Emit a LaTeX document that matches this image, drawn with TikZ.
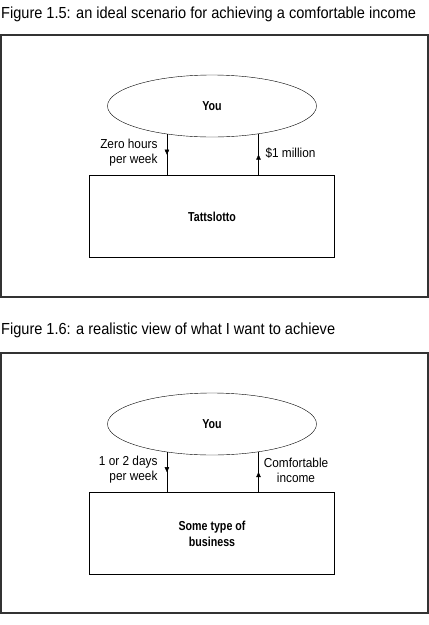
\documentclass[tikz,border=0pt]{standalone}
\usepackage{fontspec}
\setmainfont{Liberation Sans}[FakeStretch=0.91,BoldFeatures={FakeStretch=0.82}]
\usetikzlibrary{arrows.meta,positioning,shapes.geometric,decorations.markings}
\definecolor{FrameGray}{HTML}{333333}

\begin{document}
\begin{tikzpicture}[x=1pt,y=-1pt, every node/.style={font=\fontsize{13}{15}\selectfont},
  figcap/.style={anchor=west,font=\fontsize{16}{18}\selectfont,inner sep=0pt},
  frame/.style={draw=FrameGray,line width=1.6pt},
  youell/.style={draw,ellipse,minimum width=209pt,minimum height=62pt,font=\fontsize{13}{15}\selectfont\bfseries},
  bizbox/.style={draw,rectangle,minimum width=245pt,minimum height=82pt,align=center,font=\fontsize{13}{16}\selectfont\bfseries},
  midarrow/.style={postaction={decorate},decoration={markings,mark=at position 0.5 with {\arrow{Triangle[length=5pt,width=4.5pt]}}}}]
\useasboundingbox (0,0) rectangle (429,625);
% Figure 1.5
\node[figcap] (cap1) at (1,14) {Figure 1.5: an ideal scenario for achieving a comfortable income};
\draw[frame] (1,35) rectangle (428,297);
\node[youell] (you1) at (212,106) {You};
\node[bizbox,below=38pt of you1] (lotto) {Tattslotto};
\draw[midarrow] (you1.-148) -- (you1.-148 |- lotto.north);
\draw[midarrow] (you1.-31 |- lotto.north) -- (you1.-31);
\node[anchor=east,align=right] (hrs1) at (161,153) {Zero hours\\per week};
\node[anchor=west] (cash) at (262,153) {\$1 million};
% Figure 1.6
\node[figcap] (cap2) at (1,330) {Figure 1.6: a realistic view of what I want to achieve};
\draw[frame] (1,353) rectangle (428,613);
\node[youell] (you2) at (212,424) {You};
\node[bizbox,below=37pt of you2] (biz) {Some type of\\business};
\draw[midarrow] (you2.-148) -- (you2.-148 |- biz.north);
\draw[midarrow] (you2.-31 |- biz.north) -- (you2.-31);
\node[anchor=east,align=right] (hrs2) at (161,470) {1 or 2 days\\per week};
\node[align=center] (inc) at (296,470) {Comfortable\\income};
\end{tikzpicture}
\end{document}
